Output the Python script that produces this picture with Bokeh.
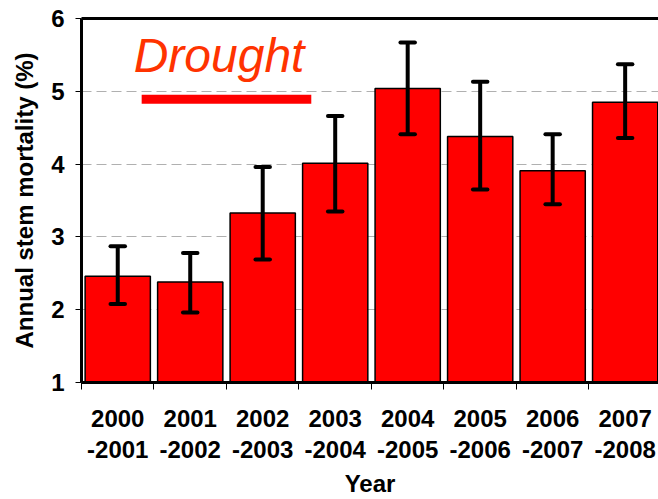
from bokeh.plotting import figure
from bokeh.models import (Range1d, FixedTicker, LinearAxis, ColumnDataSource,
                          CustomJSTickFormatter, Title)
from bokeh.core.properties import value
from bokeh.embed import file_html
from bokeh.resources import INLINE

# ---- data ----
periods = ["2000\n-2001", "2001\n-2002", "2002\n-2003", "2003\n-2004",
           "2004\n-2005", "2005\n-2006", "2006\n-2007", "2007\n-2008"]
mortality = [2.46, 2.38, 3.33, 4.01, 5.04, 4.38, 3.91, 4.85]
err_upper = [2.87, 2.78, 3.96, 4.66, 5.67, 5.13, 4.41, 5.37]
err_lower = [2.08, 1.96, 2.69, 3.35, 4.41, 3.65, 3.45, 4.36]
y_ticks = [1, 2, 3, 4, 5, 6]
grid_ticks = [2, 3, 4, 5]
drought_label = "Drought"
drought_span = [0.83, 3.17]   # in category units
drought_level = 4.89

FONT = "Liberation Sans"
n = len(periods)
xc = [i + 0.5 for i in range(n)]
cap_half = 0.1
src = ColumnDataSource(dict(
    x=xc, top=mortality, hi=err_upper, lo=err_lower,
    xl=[v - cap_half for v in xc], xr=[v + cap_half for v in xc],
))

X_END = 7.96
p = figure(width=658, height=499, output_backend="svg", toolbar_location=None,
           x_range=Range1d(0, X_END), y_range=Range1d(1, 6),
           min_border_left=81, min_border_right=0, min_border_top=18,
           min_border_bottom=116)
p.outline_line_color = None
p.background_fill_color = "white"
p.border_fill_color = "white"

p.xgrid.visible = False
p.ygrid[0].ticker = FixedTicker(ticks=grid_ticks)
p.ygrid.grid_line_color = "#b0b0b0"
p.ygrid.grid_line_dash = "10 5"
p.ygrid.grid_line_width = 1

# bars
p.vbar(x="x", top="top", bottom=1, width=0.9, source=src,
       fill_color="#FF0000", line_color="black", line_width=1.5)
# error bars
p.segment(x0="x", y0="lo", x1="x", y1="hi", source=src,
          line_color="black", line_width=4)
p.segment(x0="xl", y0="hi", x1="xr", y1="hi", source=src,
          line_color="black", line_width=4, line_cap="round")
p.segment(x0="xl", y0="lo", x1="xr", y1="lo", source=src,
          line_color="black", line_width=4, line_cap="round")

# drought annotation
p.text(x=[0.72], y=[5.49], text=[drought_label], text_font=value(FONT),
       text_font_style="italic", text_font_size="48px", text_color="#FF3300",
       text_baseline="alphabetic", text_align="left")
p.segment(x0=[drought_span[0]], y0=[drought_level], x1=[drought_span[1]],
          y1=[drought_level], line_color="#FF0000", line_width=9)

# x axis
xa = p.xaxis[0]
xa.ticker = FixedTicker(ticks=xc, minor_ticks=list(range(n)))
xa.formatter = CustomJSTickFormatter(args=dict(labels=periods),
                                     code="return labels[Math.floor(tick)];")
xa.major_tick_line_color = None
xa.major_tick_out = 0
xa.major_tick_in = 0
xa.minor_tick_line_color = "black"
xa.minor_tick_out = 7
xa.minor_tick_in = 0
xa.axis_line_width = 3
xa.axis_line_color = "black"
xa.major_label_text_font = FONT
xa.major_label_text_font_style = "bold"
xa.major_label_text_font_size = "24px"
xa.major_label_text_line_height = 1.15
xa.major_label_text_color = "black"
xa.major_label_standoff = 15

# x axis title as a title panel below the axis
year_title = Title(text="Year", align="center", text_font=FONT,
                   text_font_style="bold", text_font_size="24px",
                   text_color="black", standoff=5)
p.add_layout(year_title, "below")

# y axis
ya = p.yaxis[0]
ya.ticker = FixedTicker(ticks=y_ticks)
ya.major_tick_out = 6
ya.major_tick_in = 0
ya.major_tick_line_color = "black"
ya.minor_tick_line_color = None
ya.axis_line_width = 3
ya.axis_line_color = "black"
ya.major_label_text_font = FONT
ya.major_label_text_font_style = "bold"
ya.major_label_text_font_size = "24px"
ya.major_label_text_color = "black"
ya.major_label_standoff = 11
ya.axis_label = "Annual stem mortality (%)"
ya.axis_label_text_font = FONT
ya.axis_label_text_font_style = "bold"
ya.axis_label_text_font_size = "24px"
ya.axis_label_text_color = "black"
ya.axis_label_standoff = 10

# top border
top = LinearAxis(ticker=FixedTicker(ticks=[]), axis_line_width=3,
                 axis_line_color="black", major_tick_line_color=None,
                 minor_tick_line_color=None, major_label_text_font_size="0px")
p.add_layout(top, "above")

open("out.html", "w").write(file_html(p, INLINE))
